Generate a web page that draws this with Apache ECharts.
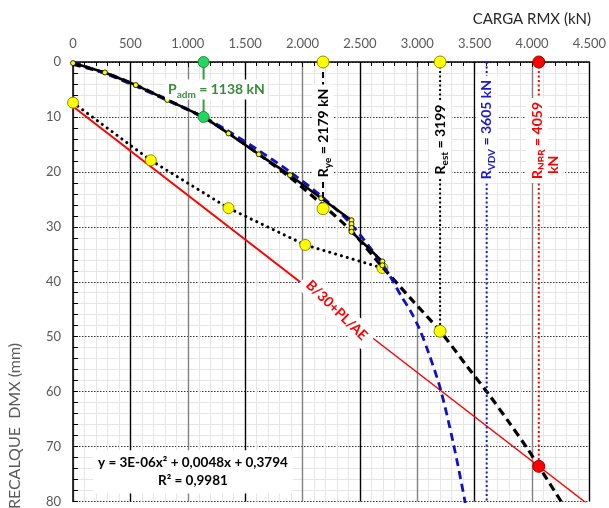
<!DOCTYPE html>
<html><head><meta charset="utf-8">
<script src="https://cdn.jsdelivr.net/npm/echarts@6/dist/echarts.min.js"></script>
<style>html,body{margin:0;padding:0;background:#fff}#c{width:609px;height:508px}</style>
</head><body><div id="c"></div>
<script>
// ---- data ----
const xTicks = [0, 500, 1000, 1500, 2000, 2500, 3000, 3500, 4000, 4500];
const yTicks = [0, 10, 20, 30, 40, 50, 60, 70, 80];

const loadX = [0, 278, 547, 822, 1138, 1355, 1619, 1891, 2163, 2427, 2427, 2427, 2427, 2696, 2696];
const loadY = [0.2, 1.9, 4.2, 6.9, 10.0, 13.0, 16.8, 20.6, 24.8, 28.8, 29.5, 30.2, 30.9, 36.3, 37.0];

const unloadX = [2696, 2024, 1355, 678, 0];
const unloadY = [37.5, 33.3, 26.6, 17.9, 7.4];

const vdvX = [0, 278, 547, 822, 1138, 1355, 1619, 1891, 2163, 2427, 2696, 2780, 2860, 2943, 3015, 3100, 3203, 3310, 3412, 3460];
const vdvY = [0, 2.1, 4.4, 7.0, 10.0, 12.6, 16.1, 20.0, 24.4, 29.6, 36.8, 39.6, 42.6, 45.4, 48.4, 53.0, 59.6, 69.0, 79.6, 86.0];

const fitX = [0, 278, 547, 822, 1138, 1355, 1619, 1891, 2163, 2427, 2696, 2954, 3203, 3420, 3623, 3800, 3964, 4059, 4260, 4400];
const fitY = [0.4, 2.0, 4.2, 6.9, 10.1, 12.9, 16.8, 21.0, 25.8, 30.8, 37.3, 43.3, 49.1, 55.0, 60.5, 65.6, 70.5, 73.6, 80.2, 84.7];

const nbrLineX = [0, 2298, 4500];
const nbrLineY = [8.1, 45.2, 80.7];

const padm = 1138, padmY = 10.0;
const rye = 2179, ryeY = 26.7;
const rest = 3199, restY = 49.0;
const rvdv = 3605, rvdvY = 80;
const rnbr = 4059, rnbrY = 73.6;

const eqLines = ['y = 3E-06x² + 0,0048x + 0,3794', 'R² = 0,9981'];

// ---- helpers ----
const pts = (xs, ys) => xs.map((x, i) => [x, ys[i]]);
const FF = 'Lato, "Open Sans", sans-serif';
const fmtX = v => v >= 1000 ? Math.floor(v / 1000) + '.' + String(v % 1000).padStart(3, '0') : String(v);

const yellow = { color: '#ffff00', borderColor: '#8c8c00', borderWidth: 1 };
function subRich(color, size) {
  return {
    m: { fontFamily: FF, fontWeight: 'bold', fontSize: size, fill: color, lineHeight: 20 },
    s: { fontFamily: FF, fontWeight: 'bold', fontSize: Math.round(size * 0.68), fill: color, lineHeight: 12, verticalAlign: 'bottom' }
  };
}

const chart = echarts.init(document.getElementById('c'), null, { renderer: 'canvas' });

const baseGraphic = [
  { type: 'text', right: 18, top: 12, style: { text: 'CARGA RMX (kN)', font: '15px ' + FF, fill: '#262626' } },
  { type: 'text', x: 15, y: 426, rotation: Math.PI / 2, style: { text: 'RECALQUE  DMX (mm)', font: '16px ' + FF, fill: '#595959', align: 'center', verticalAlign: 'middle' } }
];

const option = {
  animation: false,
  backgroundColor: '#fff',
  grid: { left: 73, top: 62, width: 518, height: 448, containLabel: false },
  xAxis: {
    type: 'value', position: 'top', min: 0, max: 4500, interval: 500,
    axisLine: { show: true, onZero: false, lineStyle: { color: '#000', width: 1.5 } },
    axisTick: { show: true, inside: true, length: 5, lineStyle: { color: '#000' } },
    minorTick: { show: true, splitNumber: 5, length: 4, lineStyle: { color: '#000' } },
    axisLabel: { color: '#595959', fontFamily: FF, fontSize: 13, margin: 12, formatter: fmtX, customValues: xTicks },
    splitLine: { show: true, lineStyle: { color: ['#808080', '#000'], width: 1.4 } },
    minorSplitLine: { show: true, lineStyle: { color: '#e6e6e6', width: 1 } }
  },
  yAxis: {
    type: 'value', inverse: true, min: 0, max: 80, interval: 10,
    axisLine: { show: true, onZero: false, lineStyle: { color: '#000', width: 1.5 } },
    axisTick: { show: true, inside: true, length: 5, lineStyle: { color: '#000' } },
    minorTick: { show: true, splitNumber: 5, length: 5, lineStyle: { color: '#000' } },
    axisLabel: { color: '#595959', fontFamily: FF, fontSize: 13, margin: 12, customValues: yTicks },
    splitLine: { show: true, lineStyle: { color: '#333', width: 1, type: [1.5, 1.5] } },
    minorSplitLine: { show: true, lineStyle: { color: '#e6e6e6', width: 1 } }
  },
  graphic: baseGraphic,
  series: [
    { name: 'unload', type: 'line', data: pts(unloadX, unloadY), symbol: 'circle', symbolSize: 11, itemStyle: yellow,
      lineStyle: { color: '#000', width: 3, type: [0.1, 6], cap: 'round' }, z: 3 },
    { name: 'nbr1', type: 'line', data: pts(nbrLineX.slice(0, 2), nbrLineY.slice(0, 2)), symbol: 'none', lineStyle: { color: '#ff0000', width: 2 }, z: 3 },
    { name: 'nbr2', type: 'line', data: pts(nbrLineX.slice(1), nbrLineY.slice(1)), symbol: 'none', lineStyle: { color: '#ff0000', width: 1.4 }, z: 3 },
    { name: 'fit', type: 'line', data: pts(fitX, fitY), smooth: 0.3, symbol: 'none', lineStyle: { color: '#000', width: 3.2, type: [8, 5] }, z: 4 },
    { name: 'vdv', type: 'line', data: pts(vdvX, vdvY), smooth: 0.3, symbol: 'none', lineStyle: { color: '#1010c8', width: 2.8, type: [8, 5] }, z: 5 },
    { name: 'load', type: 'line', data: pts(loadX, loadY), symbol: 'circle', symbolSize: 5,
      itemStyle: { color: '#ffff00', borderColor: '#000', borderWidth: 0.8 }, lineStyle: { color: '#000', width: 2.6 }, z: 6 },
    { name: 'padm', type: 'line', data: [[padm, 0], [padm, padmY]], symbol: 'circle', symbolSize: 11,
      itemStyle: { color: '#20d860', borderColor: '#2a8a3a', borderWidth: 1 }, lineStyle: { color: '#30a040', width: 2 }, z: 7 },
    { name: 'rye', type: 'line', data: [[rye, 0], [rye, ryeY]], symbol: 'circle', symbolSize: 12, itemStyle: yellow,
      lineStyle: { color: '#000', width: 2, type: [6, 4] }, z: 7 },
    { name: 'rest', type: 'line', data: [[rest, 0], [rest, restY]], symbol: 'circle', symbolSize: 12, itemStyle: yellow,
      lineStyle: { color: '#000', width: 2, type: [2, 2.5] }, z: 7 },
    { name: 'rvdv', type: 'line', data: [[rvdv, 0], [rvdv, rvdvY]], symbol: 'none',
      lineStyle: { color: '#1a1ad0', width: 2, type: [2, 2.5] }, z: 7 },
    { name: 'rnbr', type: 'line', data: [[rnbr, 0], [rnbr, rnbrY]], symbol: 'circle', symbolSize: 12,
      itemStyle: { color: '#ff0000', borderColor: '#a00000', borderWidth: 1 }, lineStyle: { color: '#ff0000', width: 2, type: [2, 2.5] }, z: 7 }
  ]
};
chart.setOption(option);

// ---- text annotations anchored in data coordinates ----
const notes = [
  { at: [1250, 5.0], rot: 0, text: '{m|P}{s|adm}{m| = 1138 kN}', rich: subRich('#3b8a3b', 14), padding: [0, 3] },
  { at: [rye, 12.9], rot: 90, text: '{m|R}{s|ye}{m| = 2179 kN}', rich: subRich('#000', 14), padding: [1, 4] },
  { at: [rest, 14.1], rot: 90, text: '{m|R}{s|est}{m| = 3199}', rich: subRich('#000', 14), padding: [1, 4] },
  { at: [rvdv, 12.3], rot: 90, text: '{m|R}{s|VDV}{m| = 3605 kN}', rich: subRich('#1a1ad0', 14), padding: [1, 4] },
  { at: [4044, 14.3], rot: 90, text: '{m|R}{s|NBR}{m| = 4059}', rich: subRich('#ff0000', 14), padding: [1, 4] },
  { at: [4188, 18.7], rot: 90, text: '{m|kN}', rich: subRich('#ff0000', 14), padding: [0, 3] },
  { at: [2298, 45.2], rot: -44, text: '{m|B/30+PL/AE}', rich: subRich('#ff0000', 14), padding: [1, 6] },
  { at: [1045, 74.6], rot: 0, text: eqLines.map(t => '{e|' + t + '}').join('\n'),
    rich: { e: { fontFamily: FF, fontWeight: 'bold', fontSize: 13.5, lineHeight: 18.6, fill: '#000' } }, padding: [3, 5] }
];
const noteGraphic = notes.map(n => {
  const p = chart.convertToPixel({ gridIndex: 0 }, n.at);
  return {
    type: 'text', x: p[0], y: p[1], rotation: n.rot * Math.PI / 180, z: 100, silent: true,
    style: { text: n.text, rich: n.rich, align: 'center', verticalAlign: 'middle', backgroundColor: '#fff', padding: n.padding }
  };
});
chart.setOption({ graphic: baseGraphic.concat(noteGraphic) });
</script></body></html>
